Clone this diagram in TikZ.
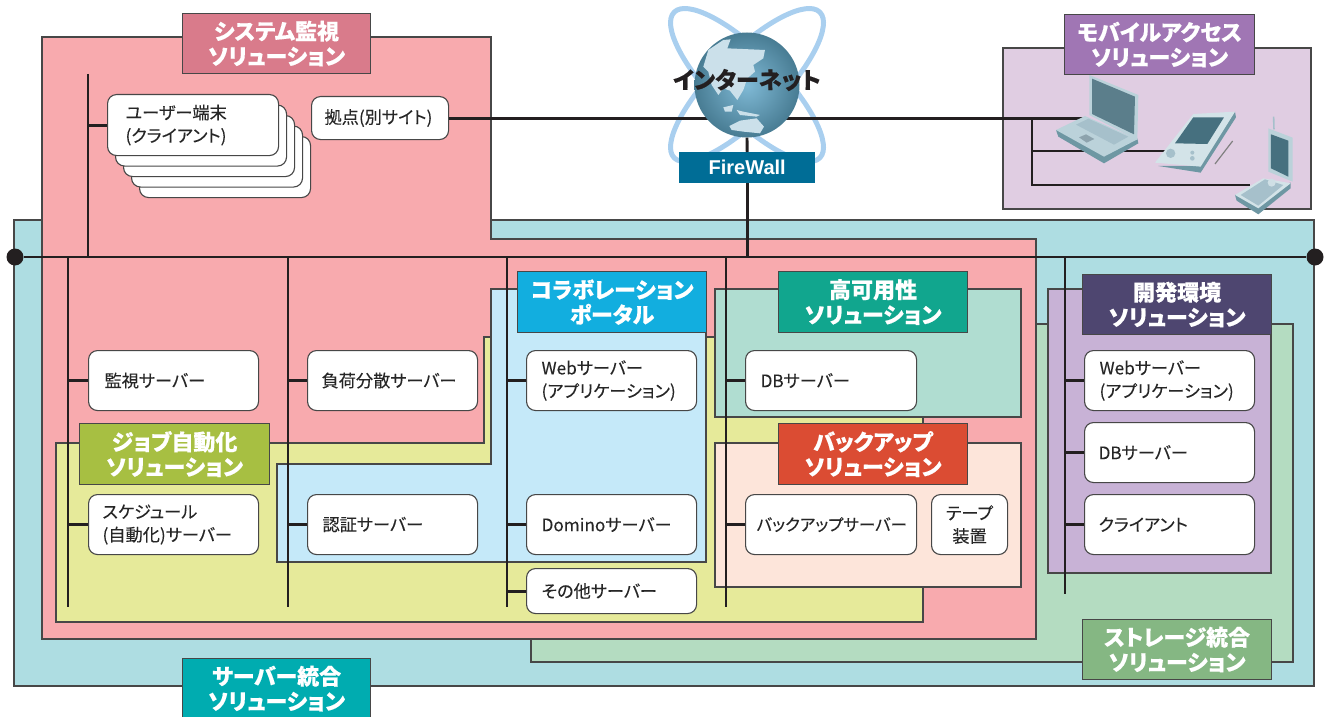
\documentclass[tikz,border=0pt]{standalone}
\usepackage{fontspec}
\setmainfont{Noto Sans CJK JP}[RawFeature={+palt},BoldFeatures={FakeBold=0.35}]
\newfontfamily\fwfont{Liberation Sans}[Scale=1]
\newfontfamily\srvfont{Noto Sans CJK JP}[RawFeature={+palt},FakeBold=0.12]
\definecolor{edge}{HTML}{474747}
\definecolor{wire}{HTML}{231F20}
\definecolor{cServer}{HTML}{AEDDE2}
\definecolor{cStore}{HTML}{B4DCC1}
\definecolor{cPink}{HTML}{F8AAAE}
\definecolor{cYellow}{HTML}{E6EA9A}
\definecolor{cBlue}{HTML}{C5E9F9}
\definecolor{cTeal}{HTML}{B0DDD1}
\definecolor{cPeach}{HTML}{FDE5DA}
\definecolor{cDev}{HTML}{C8B2D6}
\definecolor{cMob}{HTML}{E0CDE2}
\definecolor{tPink}{HTML}{D97B8B}
\definecolor{tMob}{HTML}{A076B4}
\definecolor{tColl}{HTML}{12AEDF}
\definecolor{tHA}{HTML}{11A68E}
\definecolor{tDev}{HTML}{4E4670}
\definecolor{tJob}{HTML}{A7BF42}
\definecolor{tBack}{HTML}{DB4C33}
\definecolor{tStore}{HTML}{85B783}
\definecolor{tServer}{HTML}{00ACB0}
\definecolor{tFW}{HTML}{006D96}
\definecolor{orbit}{HTML}{A9CFEF}
\definecolor{land}{HTML}{CBE0EA}
\definecolor{globeIn}{HTML}{80BAD6}
\definecolor{globeOut}{HTML}{487C93}
\definecolor{dkA}{HTML}{5B7E8B}
\definecolor{dkB}{HTML}{46707F}
\definecolor{ltA}{HTML}{BBD2DA}
\definecolor{ltB}{HTML}{D3E3E8}
\definecolor{midA}{HTML}{A6C0CB}
\definecolor{sideA}{HTML}{6E97A3}
\tikzset{
  zone/.style={draw=edge,line width=1.2pt,fill=#1},
  ttl/.style n args={3}{draw=edge,line width=1.2pt,fill=#3,text=white,anchor=north west,
    minimum width=#1pt,minimum height=#2pt,inner sep=0pt,align=center,
    font=\fontsize{22}{25}\selectfont\bfseries},
  srv/.style n args={3}{draw=edge,line width=1.1pt,fill=white,rounded corners=9pt,anchor=north west,
    minimum height=#2pt,text width=#1pt-2*#3pt,inner xsep=#3pt,inner ysep=0pt,align=left,text=black!85,
    font=\srvfont\fontsize{17.2}{23}\selectfont},
  net/.style={draw=wire,line width=2.9pt},
  busdot/.style={circle,fill=wire,minimum size=17pt,inner sep=0pt},
}
\begin{document}
\begin{tikzpicture}[x=1pt,y=-1pt]
\useasboundingbox (0,0) rectangle (1326,717);
% solution zones
\draw[zone=cMob] (1003,48) rectangle (1311,209);
\draw[zone=cServer] (14,220) rectangle (1314,686);
\draw[zone=cStore] (531,324) rectangle (1293,662);
\draw[zone=cPink] (42,37) -- (491,37) -- (491,239) -- (1036,239) -- (1036,639) -- (42,639) -- cycle;
\draw[zone=cYellow] (56,443) -- (484,443) -- (484,337) -- (923,337) -- (923,622) -- (56,622) -- cycle;
\draw[zone=cBlue] (491,289) -- (706,289) -- (706,562) -- (277,562) -- (277,464) -- (491,464) -- cycle;
\draw[zone=cTeal] (715,289) rectangle (1021,417);
\draw[zone=cPeach] (715,443) rectangle (1021,587);
\draw[zone=cDev] (1048,289) rectangle (1271,573);
% orbits
\draw[orbit,line width=5pt] (747,85) ellipse [x radius=103,y radius=33,rotate=45];
\draw[orbit,line width=5pt] (747,85) ellipse [x radius=103,y radius=33,rotate=-45];
% named ends of the wires
\coordinate (busL) at (15,257);
\coordinate (busR) at (1315,257);
\coordinate (t1top) at (88,74);
\coordinate (t2end) at (68,607);
\coordinate (t3end) at (288,607);
\coordinate (t4end) at (507,607);
\coordinate (t5end) at (726,607);
\coordinate (t6end) at (1065,594);
\coordinate (mobA) at (1085,117);
\coordinate (mobJ) at (1032,117);
\coordinate (mobB) at (1165,151);
\coordinate (mobC) at (1250,185);
% server boxes
\foreach \i/\dx/\dy in {4/32/42,3/24/31.5,2/16/21,1/8/10.5}
  \node[srv={171}{61}{18}] (stack\i) at (107+\dx,94+\dy) {};
\node[srv={171}{61}{18}] (user) at (107,94) {ユーザー端末\\(クライアント)};
\node[srv={137}{43}{13}] (site) at (311,96) {拠点(別サイト)};
\node[srv={170}{60}{16}] (mon) at (88,350) {監視サーバー};
\node[srv={170}{60}{14}] (lb) at (307,350) {負荷分散サーバー};
\node[srv={170}{60}{15}] (web) at (526,350) {Webサーバー\\(アプリケーション)};
\node[srv={171}{60}{15}] (db) at (745,350) {DBサーバー};
\node[srv={170}{60}{15}] (webd) at (1084,350) {Webサーバー\\(アプリケーション)};
\node[srv={170}{60}{14}] (dbd) at (1084,422) {DBサーバー};
\node[srv={170}{60}{14}] (cli) at (1084,494) {クライアント};
\node[srv={170}{60}{14}] (sch) at (88,494) {スケジュール\\(自動化)サーバー};
\node[srv={170}{60}{15}] (auth) at (307,494) {認証サーバー};
\node[srv={170}{60}{15}] (dom) at (526,494) {Dominoサーバー};
\node[srv={171}{60}{11},font=\srvfont\fontsize{16.5}{23}\selectfont] (bak) at (745,494) {バックアップサーバー};
\node[srv={76}{60}{4},align=center] (tape) at (931,494) {テープ\\装置};
\node[srv={170}{45}{15}] (oth) at (526,568) {その他サーバー};
% wires
\node[busdot] (dotL) at (busL) {};
\node[busdot] (dotR) at (busR) {};
\draw[net] (dotL) -- (dotR);
\coordinate (t1b) at (t1top |- busL);
\coordinate (t2t) at (t2end |- busL);
\coordinate (t3t) at (t3end |- busL);
\coordinate (t4t) at (t4end |- busL);
\coordinate (t5t) at (t5end |- busL);
\coordinate (t6t) at (t6end |- busL);
\draw[net] (t1top) -- (t1b);
\draw[net] (t2t) -- (t2end);
\draw[net] (t3t) -- (t3end);
\draw[net] (t4t) -- (t4end);
\draw[net] (t5t) -- (t5end);
\draw[net] (t6t) -- (t6end);
\draw[net] (user.west) -- (user.west -| t1top);
\draw[net] (mon.west) -- (mon.west -| t2end);
\draw[net] (sch.west) -- (sch.west -| t2end);
\draw[net] (lb.west) -- (lb.west -| t3end);
\draw[net] (auth.west) -- (auth.west -| t3end);
\draw[net] (web.west) -- (web.west -| t4end);
\draw[net] (dom.west) -- (dom.west -| t4end);
\draw[net] (oth.west) -- (oth.west -| t4end);
\draw[net] (db.west) -- (db.west -| t5end);
\draw[net] (bak.west) -- (bak.west -| t5end);
\draw[net] (webd.west) -- (webd.west -| t6end);
\draw[net] (dbd.west) -- (dbd.west -| t6end);
\draw[net] (cli.west) -- (cli.west -| t6end);
\draw[net] (site.east) -- (site.east -| mobA);
\draw[net,line width=2.6pt] (site.east -| mobJ) -- (mobJ |- mobC) -- (mobC);
\draw[net,line width=2.6pt] (mobJ |- mobB) -- (mobB);
% firewall and globe
\node[fill=tFW,text=white,minimum width=136pt,minimum height=31pt,inner sep=0pt,anchor=north west,
  font=\fwfont\fontsize{20}{22}\selectfont\bfseries] (fw) at (679,152) {FireWall};
\node[circle,minimum size=105pt,inner sep=0pt,shade,inner color=globeIn,outer color=globeOut] (globe) at (747,85) {};
\draw[net] (globe.south) -- (fw.north);
\draw[net] (fw.south) -- (fw.south |- busL);
\begin{scope}
  \clip (747,85) circle [radius=52];
  \begin{scope}[shift={(640,0)},x=0.3333pt,y=-0.3333pt]
    \fill[land] (190,200) -- (205,150) -- (250,120) -- (272,118) -- (262,145) -- (375,150) -- (370,175) -- (340,195) -- (345,215) -- (322,235) -- (310,270) -- (292,300) -- (270,272) -- (250,265) -- (235,285) -- (215,255) -- (205,215) -- cycle;
    \fill[land] (268,378) -- (300,362) -- (350,355) -- (372,380) -- (360,400) -- (310,395) -- (275,390) -- cycle;
    \fill[land] (250,322) -- (280,315) -- (275,335) -- (255,335) -- cycle;
    \fill[land] (290,330) -- (310,335) -- (360,345) -- (350,350) -- (300,345) -- cycle;
  \end{scope}
\end{scope}
\node[text=wire,inner sep=0pt,font=\fontsize{23.2}{26}\selectfont\bfseries] (inet) at (747,80) {インターネット};
% mobile devices
\begin{scope}[shift={(1000,40)},x=0.3333pt,y=-0.3333pt]
  % laptop
  \fill[sideA] (168,270) -- (175,290) -- (312,370) -- (415,310) -- (412,295) -- cycle;
  \fill[ltA] (268,105) -- (415,165) -- (412,300) -- (268,225) -- cycle;
  \fill[dkA] (276,116) -- (405,170) -- (402,283) -- (276,222) -- cycle;
  \fill[ltA] (168,270) -- (255,228) -- (412,298) -- (312,350) -- cycle;
  \fill[midA] (228,254) -- (265,236) -- (385,290) -- (342,314) -- cycle;
  \fill[midA!85!black] (237,292) -- (258,283) -- (283,297) -- (260,308) -- cycle;
  % PDA
  \fill[sideA] (475,378) -- (602,398) -- (708,232) -- (705,215) -- (600,378) -- cycle;
  \fill[ltB] (465,368) -- (580,222) -- (705,215) -- (602,380) -- cycle;
  \fill[dkB] (525,310) -- (580,232) -- (672,232) -- (622,312) -- cycle;
  \fill[midA] (512,340) circle [radius=14];
  \fill[midA] (577,338) circle [radius=6];
  \fill[midA] (577,355) circle [radius=7];
  \draw[gray,line width=1.2pt] (645,372) -- (698,303);
  % phone
  \draw[midA,line width=1.6pt] (821,230) -- (822,268);
  \fill[sideA] (705,465) -- (710,482) -- (775,523) -- (872,445) -- (872,428) -- cycle;
  \fill[ltA] (805,265) -- (878,293) -- (878,425) -- (805,395) -- cycle;
  \fill[dkB] (813,283) -- (865,302) -- (865,410) -- (813,385) -- cycle;
  \fill[ltB] (705,465) -- (790,415) -- (872,430) -- (775,505) -- cycle;
  \fill[midA] (722,465) -- (795,418) -- (850,435) -- (775,497) -- cycle;
  \fill[ltA!70!white] (815,428) circle [radius=12];
\end{scope}
% titles
\node[ttl={188}{60}{tPink}] (tSys) at (182,13) {システム監視\\ソリューション};
\node[ttl={190}{60}{tMob}] (tMobile) at (1064,14) {モバイルアクセス\\ソリューション};
\node[ttl={189}{61}{tColl}] (tCollab) at (517,271) {コラボレーション\\ポータル};
\node[ttl={189}{61}{tHA}] (tAvail) at (778,271) {高可用性\\ソリューション};
\node[ttl={189}{60}{tDev}] (tDevel) at (1082,274) {開発環境\\ソリューション};
\node[ttl={190}{61}{tJob}] (tJobs) at (79,423) {ジョブ自動化\\ソリューション};
\node[ttl={189}{61}{tBack}] (tBackup) at (778,423) {バックアップ\\ソリューション};
\node[ttl={189}{60}{tStore}] (tStorage) at (1082,619) {ストレージ統合\\ソリューション};
\node[ttl={188}{60}{tServer}] (tSrv) at (182,658) {サーバー統合\\ソリューション};
\end{tikzpicture}
\end{document}
